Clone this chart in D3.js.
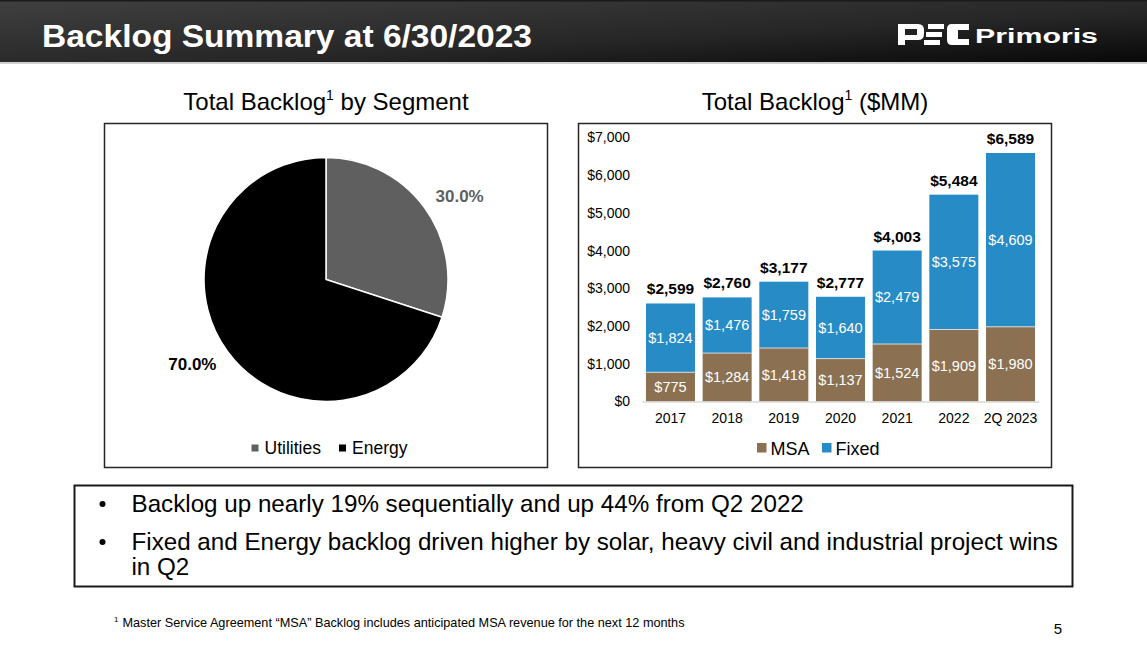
<!DOCTYPE html>
<html>
<head>
<meta charset="utf-8">
<script src="https://cdn.jsdelivr.net/npm/d3@7"></script>
<style>
  html, body { margin: 0; padding: 0; background: #fff; }
  svg { display: block; font-family: "Liberation Sans", Arial, sans-serif; }
</style>
</head>
<body>
<svg id="chart" width="1147" height="649"></svg>
<script>
// ---- Data ----
const segments = ["Utilities", "Energy"];
const segmentShares = [30.0, 70.0];
const segmentColors = ["#5f5f5f", "#000000"];

const years = ["2017", "2018", "2019", "2020", "2021", "2022", "2Q 2023"];
const msaValues = [775, 1284, 1418, 1137, 1524, 1909, 1980];
const fixedValues = [1824, 1476, 1759, 1640, 2479, 3575, 4609];
const seriesNames = ["MSA", "Fixed"];
const seriesColors = ["#8b7152", "#278bc6"];
const yTicks = [0, 1000, 2000, 3000, 4000, 5000, 6000, 7000];

const bullets = [
  ["Backlog up nearly 19% sequentially and up 44% from Q2 2022"],
  ["Fixed and Energy backlog driven higher by solar, heavy civil and industrial project wins", "in Q2"]
];

const svg = d3.select("#chart");
const fmt = d3.format(",");
const money = v => "$" + fmt(v);

// ---- Header ----
const defs = svg.append("defs");
const hg = defs.append("linearGradient").attr("id", "hdr").attr("x1", "0").attr("y1", "0").attr("x2", "1").attr("y2", "1");
hg.append("stop").attr("offset", "0%").attr("stop-color", "#404040");
hg.append("stop").attr("offset", "60%").attr("stop-color", "#262626");
hg.append("stop").attr("offset", "100%").attr("stop-color", "#080808");
svg.append("rect").attr("x", 0).attr("y", 0).attr("width", 1147).attr("height", 62).attr("fill", "url(#hdr)");
svg.append("rect").attr("x", 0).attr("y", 0).attr("width", 1147).attr("height", 1.5).attr("fill", "#1a1a1a");
svg.append("rect").attr("x", 0).attr("y", 62).attr("width", 1147).attr("height", 2).attr("fill", "#d0d0d0");
svg.append("text").attr("x", 42).attr("y", 46.5)
  .attr("fill", "#fff").attr("font-weight", "bold").attr("font-size", 32)
  .attr("textLength", 490).attr("lengthAdjust", "spacingAndGlyphs")
  .text("Backlog Summary at 6/30/2023");

// Logo
const logo = svg.append("g").attr("fill", "#fff");
logo.append("path").attr("d", "M898,24 h20 q6,0 6,6 v4 q0,6 -6,6 h-13 v5 h-7 z M905,29 v6 h12 v-6 z").attr("fill-rule", "evenodd");
logo.append("rect").attr("x", 928).attr("y", 24).attr("width", 16).attr("height", 5);
logo.append("rect").attr("x", 926).attr("y", 32).attr("width", 16).attr("height", 5);
logo.append("rect").attr("x", 924).attr("y", 40).attr("width", 16).attr("height", 5);
logo.append("path").attr("d", "M952,24 h17 v6 h-11 v9 h11 v6 h-17 q-5,0 -5,-5 v-11 q0,-5 5,-5 z");
svg.append("text").attr("x", 975).attr("y", 42.5).attr("fill", "#fff").attr("font-weight", "bold")
  .attr("font-size", 20).attr("textLength", 123).attr("lengthAdjust", "spacingAndGlyphs").text("Primoris");

// ---- Panel titles ----
function panelTitle(cx, parts) {
  const t = svg.append("text").attr("x", cx).attr("y", 109.5).attr("text-anchor", "middle")
    .attr("font-size", 24).attr("fill", "#000");
  t.append("tspan").text(parts[0]);
  t.append("tspan").attr("dy", -10).attr("font-size", 14).text("1");
  t.append("tspan").attr("dy", 10).text(parts[1]);
}
panelTitle(326, ["Total Backlog", " by Segment"]);
panelTitle(815, ["Total Backlog", " ($MM)"]);

svg.append("rect").attr("x", 104.5).attr("y", 123.5).attr("width", 443).attr("height", 344)
  .attr("fill", "none").attr("stroke", "#262626").attr("stroke-width", 1.5);
svg.append("rect").attr("x", 578.5).attr("y", 123.5).attr("width", 473).attr("height", 344)
  .attr("fill", "none").attr("stroke", "#262626").attr("stroke-width", 1.5);

// ---- Pie ----
const pieData = segments.map((s, i) => ({ name: s, value: segmentShares[i], color: segmentColors[i] }));
const pie = d3.pie().value(d => d.value).sort(null);
const arcs = pie(pieData);
const R = 122;
const arc = d3.arc().innerRadius(0).outerRadius(R);
const labelArc = d3.arc().innerRadius(159).outerRadius(159);
const pg = svg.append("g").attr("transform", "translate(326,279.5)");
pg.selectAll("path").data(arcs).join("path")
  .attr("d", arc).attr("fill", d => d.data.color).attr("stroke", "#fff").attr("stroke-width", 1.5);
const labelOffsets = [[5, 10], [-5, -9]];
pg.selectAll("text.pl").data(arcs).join("text").attr("class", "pl")
  .attr("x", (d, i) => labelArc.centroid(d)[0] + labelOffsets[i][0])
  .attr("y", (d, i) => labelArc.centroid(d)[1] + labelOffsets[i][1] + 6)
  .attr("text-anchor", "middle").attr("font-weight", "bold").attr("font-size", 17)
  .attr("fill", d => d.data.color)
  .text(d => d.data.value.toFixed(1) + "%");

const pl = svg.append("g");
const pieLegX = [251.5, 339];
pieData.forEach((d, i) => {
  pl.append("rect").attr("x", pieLegX[i]).attr("y", 444.5).attr("width", 7).attr("height", 7).attr("fill", d.color);
  pl.append("text").attr("x", pieLegX[i] + 13).attr("y", 454).attr("font-size", 17.5).attr("fill", "#000").text(d.name);
});

// ---- Stacked bars ----
const x = d3.scaleBand().domain(years).range([642, 1039]).paddingInner(0.135).paddingOuter(0.07);
const y = d3.scaleLinear().domain([0, 7000]).range([401.5, 137.5]);
const rows = years.map((yr, i) => ({ year: yr, MSA: msaValues[i], Fixed: fixedValues[i] }));
const stack = d3.stack().keys(seriesNames)(rows);

const yAxis = d3.axisLeft(y).tickValues(yTicks).tickFormat(money).tickSize(0).tickPadding(0);
const yg = svg.append("g").attr("transform", "translate(630,0)").call(yAxis);
yg.select(".domain").remove();
yg.selectAll("text").attr("font-size", 14).attr("fill", "#000").attr("font-family", "Liberation Sans, Arial, sans-serif");

const bg = svg.append("g");
stack.forEach((layer, li) => {
  bg.selectAll("rect.s" + li).data(layer).join("rect").attr("class", "s" + li)
    .attr("x", d => x(d.data.year)).attr("width", x.bandwidth())
    .attr("y", d => y(d[1])).attr("height", d => y(d[0]) - y(d[1]))
    .attr("fill", seriesColors[li]);
  bg.selectAll("text.l" + li).data(layer).join("text").attr("class", "l" + li)
    .attr("x", d => x(d.data.year) + x.bandwidth() / 2)
    .attr("y", d => (y(d[0]) + y(d[1])) / 2 + 5)
    .attr("text-anchor", "middle").attr("font-size", 14.5).attr("fill", "#fff")
    .text(d => money(d[1] - d[0]));
});
bg.selectAll("line.sep").data(stack[0]).join("line").attr("class", "sep")
  .attr("x1", d => x(d.data.year)).attr("x2", d => x(d.data.year) + x.bandwidth())
  .attr("y1", d => y(d[1])).attr("y2", d => y(d[1]))
  .attr("stroke", "#d8d8d8").attr("stroke-width", 1);
const topLayer = stack[stack.length - 1];
bg.selectAll("text.tot").data(topLayer).join("text").attr("class", "tot")
  .attr("x", d => x(d.data.year) + x.bandwidth() / 2)
  .attr("y", d => y(d[1]) - 9)
  .attr("text-anchor", "middle").attr("font-size", 15.5).attr("font-weight", "bold").attr("fill", "#000")
  .text(d => money(d[1]));

const xAxis = d3.axisBottom(x).tickSize(0).tickPadding(0);
const xg = svg.append("g").attr("transform", "translate(0,401.5)").call(xAxis);
xg.select(".domain").attr("stroke", "#d9d9d9").attr("stroke-width", 1.5);
xg.selectAll("text").attr("font-size", 14).attr("fill", "#000").attr("dy", 0).attr("y", 21.5)
  .attr("font-family", "Liberation Sans, Arial, sans-serif");

const bl = svg.append("g");
const barLegX = [757, 822];
seriesNames.forEach((s, i) => {
  bl.append("rect").attr("x", barLegX[i]).attr("y", 443).attr("width", 9.5).attr("height", 9.5).attr("fill", seriesColors[i]);
  bl.append("text").attr("x", barLegX[i] + 13.5).attr("y", 454.5).attr("font-size", 18).attr("fill", "#000").text(s);
});

// ---- Bullet box ----
svg.append("rect").attr("x", 74.5).attr("y", 485.5).attr("width", 998).attr("height", 101)
  .attr("fill", "#fff").attr("stroke", "#1a1a1a").attr("stroke-width", 2);
const lineYs = [[511.5], [549.5, 574.5]];
bullets.forEach((lines, bi) => {
  svg.append("circle").attr("cx", 102.5).attr("cy", lineYs[bi][0] - 7.5).attr("r", 3).attr("fill", "#000");
  lines.forEach((ln, li) => {
    svg.append("text").attr("x", 131.5).attr("y", lineYs[bi][li]).attr("font-size", 24.2).attr("fill", "#000").text(ln);
  });
});

// ---- Footnote ----
const fn = svg.append("text").attr("x", 114).attr("y", 627).attr("font-size", 12.7).attr("fill", "#000");
fn.append("tspan").attr("font-size", 8).attr("dy", -5).text("1");
fn.append("tspan").attr("dx", 4).attr("dy", 5).text("Master Service Agreement \u201CMSA\u201D Backlog includes anticipated MSA revenue for the next 12 months");

svg.append("text").attr("x", 1062).attr("y", 634).attr("text-anchor", "end").attr("font-size", 15).attr("fill", "#000").text("5");
</script>
</body>
</html>
